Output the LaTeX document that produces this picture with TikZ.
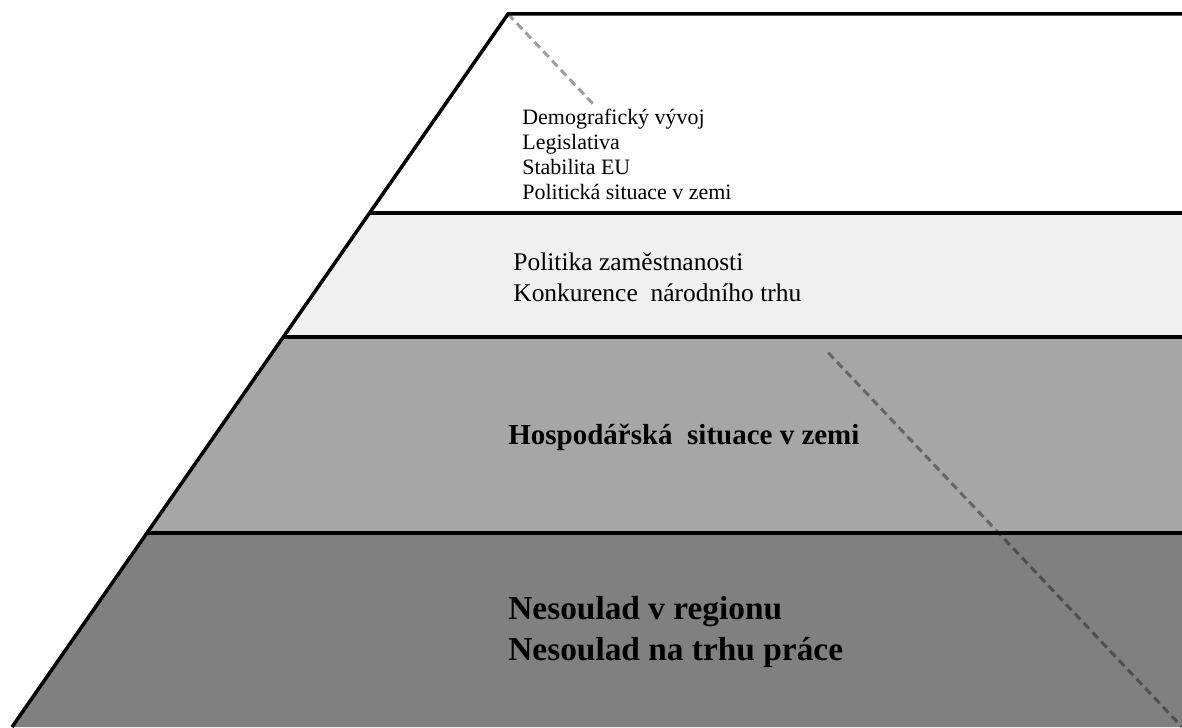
\documentclass[tikz,border=0pt]{standalone}
\usepackage{fontspec}
\setmainfont{Liberation Serif}
\usetikzlibrary{calc}
\tikzset{
  edge/.style={line width=2pt, black},
  guide/.style={line width=1.7pt, black, opacity=0.38, dash pattern=on 4.5pt off 2.8pt},
  label/.style={anchor=west, inner sep=0pt, align=left}
}

\begin{document}
\begin{tikzpicture}[x=0.02cm, y=0.02cm]
    % frame of the picture
    \useasboundingbox (0,0) rectangle (1182,727);
    \coordinate (apex) at (508,713);
    \coordinate (foot) at (12,0);
    \coordinate (corner) at (1182,0);
    % bands
    \fill[white] (apex) -- (1182,713) -- (1182,514) -- (369.6,514) -- cycle;
    \fill[black!6] (369.6,514) -- (1182,514) -- (1182,390) -- (283.3,390) -- cycle;
    \fill[black!35] (283.3,390) -- (1182,390) -- (1182,194) -- (147,194) -- cycle;
    \fill[black!50] (147,194) -- (1182,194) -- (1182,0) -- (foot) -- cycle;
    % dashed diagonal
    \draw[guide] (apex) -- ($(apex)!0.13!(corner)$);
    \draw[guide] ($(apex)!0.475!(corner)$) -- (corner);
    % outline
    \draw[edge] (foot) -- (apex) -- (1182,713);
    \draw[edge] (369.6,514) -- (1182,514);
    \draw[edge] (283.3,390) -- (1182,390);
    \draw[edge] (147,194) -- (1182,194);
    % texts
    \node[label, font=\fontsize{12.5}{14.2}\selectfont] (vnejsi) at (522,572.5)
      {Demografický vývoj\\Legislativa\\Stabilita EU\\Politická situace v zemi};
    \node[label, font=\fontsize{14.5}{17.6}\selectfont] (narodni) at (513,449.5)
      {Politika zaměstnanosti\\Konkurence~ národního trhu};
    \node[label, font=\fontsize{16.5}{20}\selectfont\bfseries] (hospodarska) at (508,290)
      {Hospodářská~ situace v zemi};
    \node[label, font=\fontsize{19}{22.9}\selectfont\bfseries] (regionalni) at (508,95)
      {Nesoulad v regionu\\Nesoulad na trhu práce};
\end{tikzpicture}
\end{document}
